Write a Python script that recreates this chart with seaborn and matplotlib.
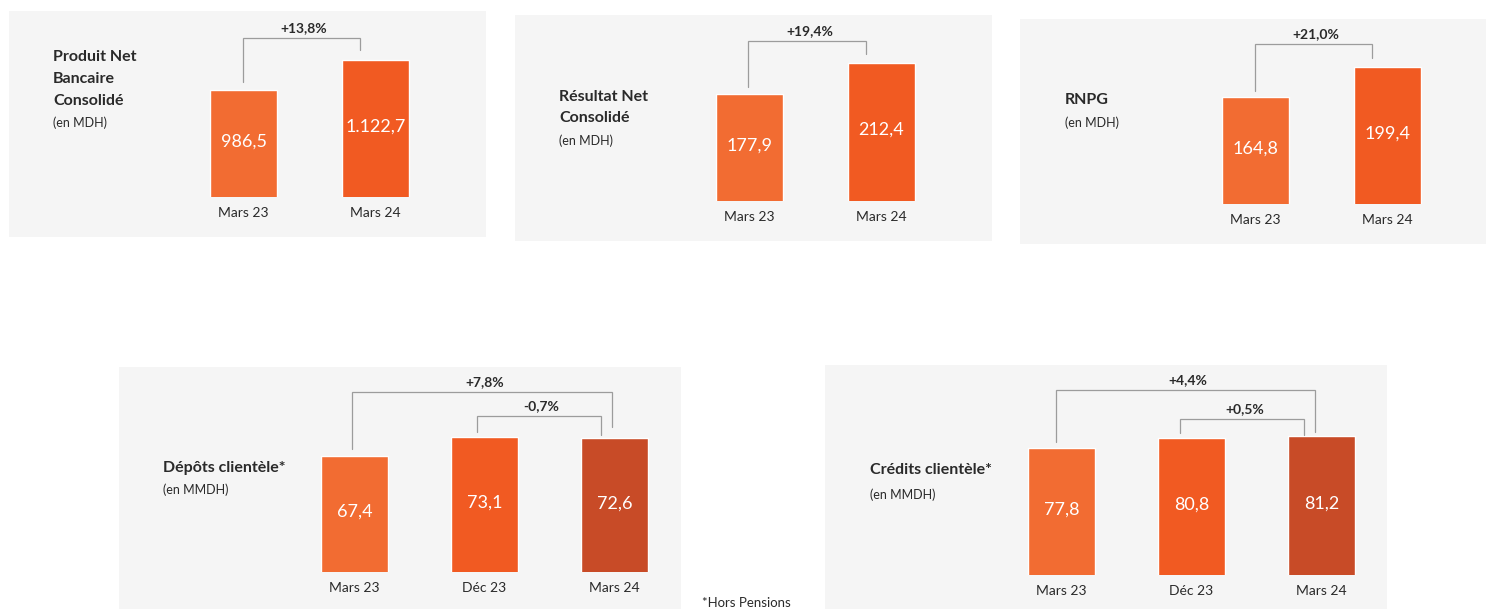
import matplotlib
matplotlib.use("Agg")
import matplotlib.pyplot as plt
from matplotlib.patches import Rectangle
import seaborn as sns

# Data (values in MDH / MMDH)
periods_2 = ["Mars 23", "Mars 24"]
periods_3 = ["Mars 23", "Déc 23", "Mars 24"]

pnb = [986.5, 1122.7]
rnc = [177.9, 212.4]
rnpg = [164.8, 199.4]
depots = [67.4, 73.1, 72.6]
credits = [77.8, 80.8, 81.2]

pnb_var = ["+13,8%"]
rnc_var = ["+19,4%"]
rnpg_var = ["+21,0%"]
depots_var = ["+7,8%", "-0,7%"]
credits_var = ["+4,4%", "+0,5%"]

sns.set_style("white")
plt.rcParams["font.family"] = ["Lato", "DejaVu Sans"]

W, H = 1486, 609
BG = "#f5f5f5"
C_LIGHT, C_MID, C_DARK = "#f26c32", "#f15a22", "#c84b27"
TXT = "#2a2a2a"
LINE = "#9c9c9c"


def fx(x):
    return x / W


def fy(y):
    return 1 - y / H


def fmt(v):
    s = f"{v:,.1f}"
    return s.replace(",", " ").replace(".", ",").replace(" ", ".")


# layout: background box, first bar centre, px per category, bar base px, panel top px,
# visible baseline, px per unit, title lines, subtitle
panels = [
    dict(labels=periods_2, values=pnb, var=pnb_var, colors=[C_LIGHT, C_MID],
         box=(9, 11, 486, 237), c0=243.5, u=132, yb=197, top=11, base=500.7, s=0.2203,
         title=["Produit Net", "Bancaire", "Consolidé"], title_xy=(53, 56.7, 22), sub="(en MDH)", sub_y=123,
         brackets=[(0, 1, 22, 7.7, 10, -1, -15.5)]),
    dict(labels=periods_2, values=rnc, var=rnc_var, colors=[C_LIGHT, C_MID],
         box=(515, 15, 992, 241), c0=749.5, u=132, yb=200.5, top=15, base=59.4, s=0.8986,
         title=["Résultat Net", "Consolidé"], title_xy=(559, 96.7, 21.6), sub="(en MDH)", sub_y=140.7,
         brackets=[(0, 1, 22, 7.3, 9, -1.5, -15.5)]),
    dict(labels=periods_2, values=rnpg, var=rnpg_var, colors=[C_LIGHT, C_MID],
         box=(1020, 19, 1486, 244), c0=1255.5, u=132, yb=204, top=19, base=41.4, s=0.867,
         title=["RNPG"], title_xy=(1065, 100, 22), sub="(en MDH)", sub_y=122.7,
         brackets=[(0, 1, 22.7, 6.3, 9.3, -1, -16)]),
    dict(labels=periods_3, values=depots, var=depots_var, colors=[C_LIGHT, C_MID, C_DARK],
         box=(119, 367, 681, 609), c0=354.5, u=130, yb=572, top=367, base=33.7, s=3.437,
         title=["Dépôts clientèle*"], title_xy=(163, 468, 22), sub="(en MMDH)", sub_y=490,
         brackets=[(0, 2, 45, 7, 11, -2.5, -3), (1, 2, 21, 5, 3.3, -8, -14)]),
    dict(labels=periods_3, values=credits, var=credits_var, colors=[C_LIGHT, C_MID, C_DARK],
         box=(825, 365, 1387, 609), c0=1061.5, u=130, yb=575, top=365, base=41.0, s=3.452,
         title=["Crédits clientèle*"], title_xy=(870, 470, 22), sub="(en MMDH)", sub_y=495,
         brackets=[(0, 2, 46, 6, 4.7, -6, -6.5), (1, 2, 17.3, 5, 1.3, -11.5, -18)]),
]

fig = plt.figure(figsize=(W / 100, H / 100), dpi=100)

for p in panels:
    x0, y0, x1, y1 = p["box"]
    fig.add_artist(Rectangle((fx(x0), fy(y1)), (x1 - x0) / W, (y1 - y0) / H,
                             transform=fig.transFigure, facecolor=BG, edgecolor="none", zorder=-10))

    n = len(p["values"])
    u, s = p["u"], p["s"]
    ax = fig.add_axes([fx(p["c0"] - 0.5 * u), fy(p["yb"]), n * u / W, (p["yb"] - p["top"]) / H])
    sns.barplot(x=p["labels"], y=p["values"], hue=p["labels"], palette=p["colors"],
                saturation=1, width=67 / u, legend=False, ax=ax)
    ax.set_xlim(-0.5, n - 0.5)
    ax.set_ylim(p["base"], p["base"] + (p["yb"] - p["top"]) / s)
    ax.set_facecolor("none")
    for sp in ax.spines.values():
        sp.set_visible(False)
    ax.set_yticks([])
    ax.set_xlabel("")
    ax.set_ylabel("")
    ax.tick_params(axis="x", length=0, pad=7.5, labelsize=10, labelcolor=TXT)

    # values inside bars
    for k, v in enumerate(p["values"]):
        ax.text(k, (p["base"] + v) / 2 + 2 / s, fmt(v), ha="center", va="center",
                color="white", fontsize=13)

    # variation brackets
    vals = p["values"]
    for (i, j, lvl, gl, gr, dxl, dxr), lab in zip(p["brackets"], p["var"]):
        top_y = max(vals[i:j + 1]) + lvl / s
        xl, xr = i + dxl / u, j + dxr / u
        ax.plot([xl, xl, xr, xr], [vals[i] + gl / s, top_y, top_y, vals[j] + gr / s],
                color=LINE, lw=0.9, clip_on=False, solid_joinstyle="miter")
        ax.annotate(lab, ((xl + xr) / 2, top_y), xytext=(2, 7.2), textcoords="offset points",
                    ha="center", va="center", fontsize=10, fontweight="bold", color=TXT)

    tx, ty, dy = p["title_xy"]
    for k, line in enumerate(p["title"]):
        fig.text(fx(tx), fy(ty + k * dy), line, ha="left", va="center",
                 fontsize=11.5, fontweight="bold", color=TXT)
    fig.text(fx(tx), fy(p["sub_y"]), p["sub"], ha="left", va="center", fontsize=9, color=TXT)

# footnote (cropped at the bottom edge in the source, kept fully visible here)
fig.text(fx(702), fy(597), "*Hors Pensions", ha="left", va="top", fontsize=9.5, color=TXT)

fig.savefig("out.png", dpi=100, facecolor="white")
